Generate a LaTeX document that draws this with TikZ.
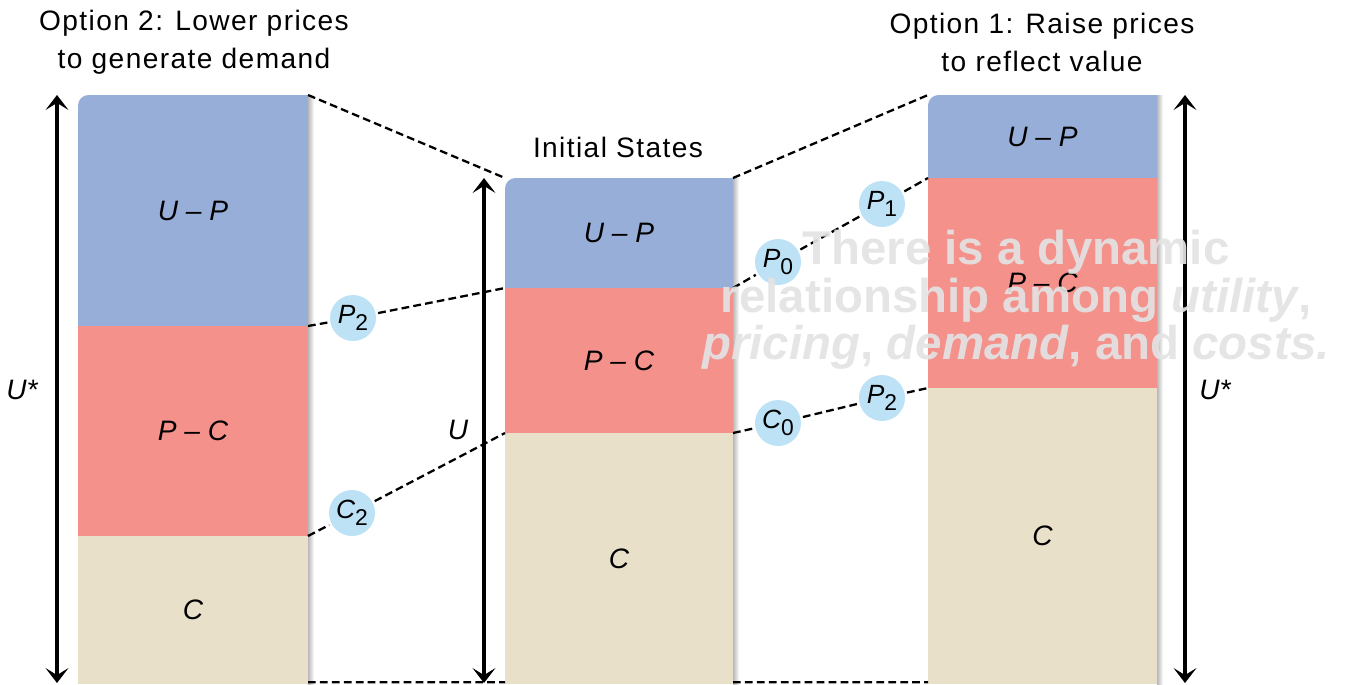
\documentclass[tikz,border=0pt]{standalone}
\usepackage{fontspec}
\setmainfont{Liberation Sans}
\newfontfamily\notefont{Liberation Sans}
\usetikzlibrary{arrows.meta,backgrounds}
\definecolor{upblue}{RGB}{151,174,216}
\definecolor{pcred}{RGB}{244,145,139}
\definecolor{cbeige}{RGB}{232,224,201}
\definecolor{bubble}{RGB}{190,226,245}
\newcommand{\idx}[2]{\textit{#1}\raisebox{-0.5ex}{\fontsize{13}{13}\selectfont #2}}
\tikzset{
  seg/.style 2 args={inner sep=0pt,outer sep=0pt,anchor=north west,minimum width=#1*0.02cm,minimum height=#2*0.02cm,font=\fontsize{16}{18}\selectfont\itshape},
  segshade/.style={left color=black!28,right color=white},
  link/.style={line width=1.3pt,dash pattern=on 4.4pt off 2.4pt},
  bubblenode/.style={circle,fill=bubble,inner sep=0pt,outer sep=1.5pt,minimum size=46*0.02cm,font=\fontsize{15}{17}\selectfont},
  dimarr/.style={{Stealth[length=8.5pt,width=13pt,inset=4pt]}-{Stealth[length=8.5pt,width=13pt,inset=4pt]},line width=2pt},
  dimlabel/.style={font=\fontsize{16}{18}\selectfont\itshape},
  heading/.style={align=center,font=\fontsize{16}{21.6}\selectfont\addfontfeature{LetterSpace=5}},
  remark/.style={align=center,text=black!11,text opacity=0.92,font=\notefont\bfseries\fontsize{27}{27}\selectfont}
}
\begin{document}
\begin{tikzpicture}[x=0.02cm,y=-0.02cm]
  \useasboundingbox (0,0) rectangle (1346,684);
  % option 2 (left)
  \node[seg={230}{231}] (lup) at (78,95) {U -- P};
  \node[seg={230}{210},fill=pcred] (lpc) at (78,326) {P -- C};
  \node[seg={230}{148},fill=cbeige] (lc) at (78,536) {C};
  % initial states (middle)
  \node[seg={228}{110}] (mup) at (505,178) {U -- P};
  \node[seg={228}{145},fill=pcred] (mpc) at (505,288) {P -- C};
  \node[seg={228}{251},fill=cbeige] (mc) at (505,433) {C};
  % option 1 (right)
  \node[seg={229}{83}] (rup) at (928,95) {U -- P};
  \node[seg={229}{210},fill=pcred] (rpc) at (928,178) {P -- C};
  \node[seg={229}{296},fill=cbeige] (rc) at (928,388) {C};
  \begin{scope}[on background layer]
    \foreach \t/\b in {lup/lc,mup/mc,rup/rc}{
      \fill[upblue] (\t.south west) -- ([yshift=-6pt]\t.north west) arc[start angle=180,end angle=90,radius=6pt] -- (\t.north east) -- (\t.south east) -- cycle;
      \shade[segshade] (\t.north east) rectangle ([xshift=3.5pt]\b.south east);
    }
  \end{scope}

  \node[heading] (opt2) at (194,42) {Option 2: Lower prices\\to generate demand};
  \node[heading] (opt1) at (1042,42) {Option 1: Raise prices\\to reflect value};
  \node[heading] (init) at (618,147) {Initial States};

  \draw[link] (lup.north east) -- (mup.north west);
  \draw[link] (mup.north east) -- (rup.north west);
  \draw[link] ([yshift=1pt]lc.south east) -- ([yshift=1pt]mc.south west);
  \draw[link] ([yshift=1pt]mc.south east) -- ([yshift=1pt]rc.south west);

  \foreach \n/\x/\y/\s/\i in {p2l/353/318/P/2,c2/352/513/C/2,p0/778/262/P/0,p1/882/204/P/1,c0/778/423/C/0,p2r/882/398/P/2}
    \node[bubblenode] (\n) at (\x,\y) {\idx{\s}{\i}};
  \draw[link] (lpc.north east) -- (p2l) -- (mpc.north west);
  \draw[link] (lc.north east) -- (c2) -- (mc.north west);
  \draw[link] (mpc.north east) -- (p0) -- (p1) -- (rpc.north west);
  \draw[link] (mc.north east) -- (c0) -- (p2r) -- (rc.north west);

  \coordinate (lt) at (57,95);   \coordinate (lb) at (57,683);
  \coordinate (mt) at (484,178); \coordinate (mb) at (484,683);
  \coordinate (rt) at (1185,95); \coordinate (rb) at (1185,683);
  \draw[dimarr] (lt) -- (lb);
  \draw[dimarr] (mt) -- (mb);
  \draw[dimarr] (rt) -- (rb);
  \node[dimlabel] (ustarl) at (22,390) {U*};
  \node[dimlabel] (ulab) at (458,430) {U};
  \node[dimlabel] (ustarr) at (1215,390) {U*};

  \node[remark] (note) at (1016,300) {There is a dynamic\\relationship among \textit{utility},\\\textit{pricing}, \textit{demand}, and \textit{costs.}};
\end{tikzpicture}
\end{document}
